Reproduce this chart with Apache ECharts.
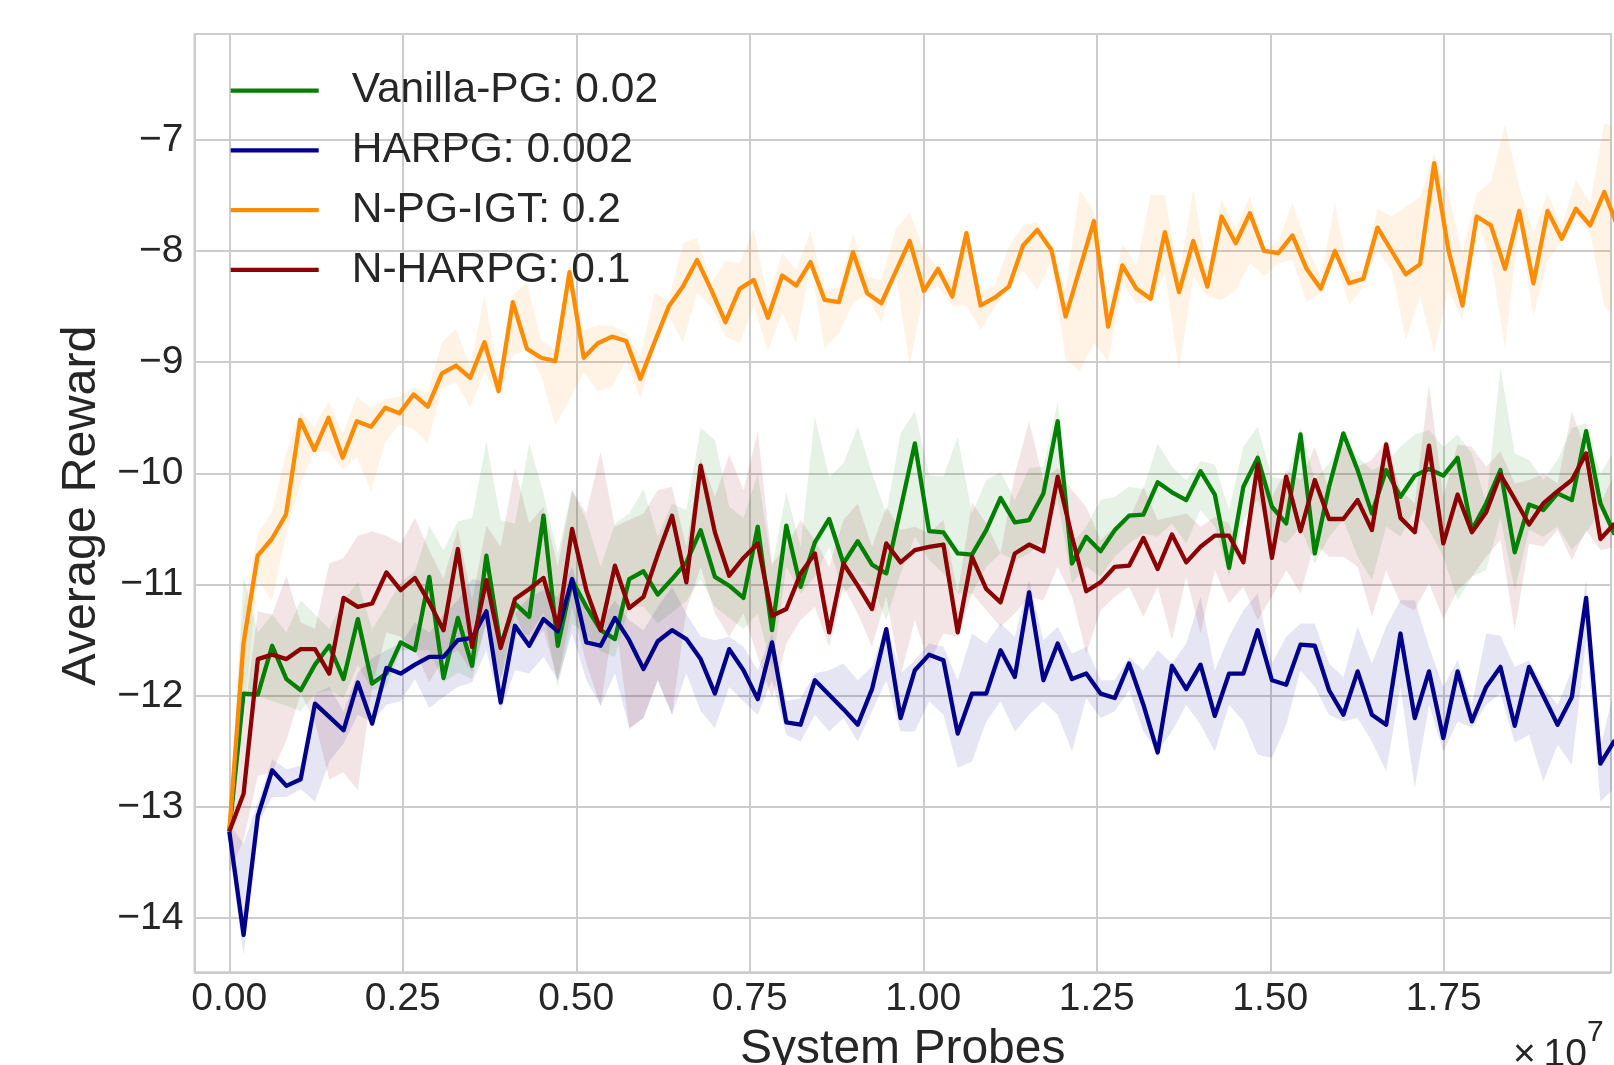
<!DOCTYPE html>
<html>
<head>
<meta charset="utf-8">
<script src="https://cdn.jsdelivr.net/npm/echarts@6/dist/echarts.min.js"></script>
<style>
html,body{margin:0;padding:0;background:#fff}
#chart{width:1614px;height:1065px}
</style>
</head>
<body>
<div id="chart"></div>
<script>
const FONT = '"Liberation Sans", Arial, sans-serif';
const TEXT = '#262626';
const GRID = '#cccccc';

const legendNames = ['Vanilla-PG: 0.02', 'HARPG: 0.002', 'N-PG-IGT: 0.2', 'N-HARPG: 0.1'];
const lineColors = ['#008000', '#00008b', '#ff8c00', '#8b0000'];

// probes per iteration (spacing of the points on the x axis)
const probeStep = 205800;     // Vanilla-PG, HARPG, N-HARPG
const probeStepIGT = 204250;  // N-PG-IGT

// Vanilla-PG
const vanillaMean = [-13.22,-11.98,-11.99,-11.55,-11.85,-11.95,-11.72,-11.55,-11.85,-11.31,
  -11.89,-11.80,-11.52,-11.59,-10.93,-11.84,-11.30,-11.73,-10.74,-11.55,
  -11.17,-11.29,-10.38,-11.55,-10.96,-11.20,-11.41,-11.49,-10.95,-10.88,
  -11.09,-10.95,-10.80,-10.51,-10.93,-11.01,-11.12,-10.48,-11.41,-10.47,
  -11.02,-10.62,-10.41,-10.81,-10.61,-10.82,-10.90,-10.32,-9.73,-10.52,
  -10.53,-10.72,-10.73,-10.51,-10.22,-10.44,-10.42,-10.18,-9.53,-10.81,
  -10.57,-10.70,-10.51,-10.38,-10.37,-10.08,-10.17,-10.24,-9.98,-10.19,
  -10.85,-10.12,-9.86,-10.30,-10.45,-9.65,-10.72,-10.12,-9.64,-9.97,
  -10.36,-9.97,-10.21,-10.02,-9.96,-10.02,-9.86,-10.51,-10.27,-9.97,
  -10.71,-10.28,-10.33,-10.18,-10.24,-9.62,-10.27,-10.55];
const vanillaUpper = [-13.15,-10.92,-11.43,-11.27,-11.43,-11.14,-11.27,-11.40,-11.14,-10.98,
  -11.40,-11.20,-10.98,-10.88,-10.47,-10.69,-10.43,-10.40,-9.71,-10.42,
  -10.45,-9.73,-10.18,-10.72,-10.15,-10.42,-10.84,-10.45,-10.36,-10.14,
  -10.57,-10.27,-10.33,-9.59,-9.70,-10.30,-10.40,-10.00,-10.84,-10.17,
  -10.66,-9.49,-10.03,-9.91,-9.58,-10.00,-10.36,-9.64,-9.44,-10.02,
  -10.03,-9.67,-10.36,-10.06,-9.99,-10.24,-9.95,-9.94,-9.36,-10.63,
  -10.48,-10.24,-10.21,-10.12,-10.14,-9.73,-9.94,-10.06,-9.89,-9.92,
  -10.33,-9.76,-9.58,-10.03,-10.06,-9.58,-10.06,-9.91,-9.67,-9.85,
  -9.97,-9.91,-9.76,-9.65,-9.61,-9.76,-9.65,-9.82,-10.27,-9.05,
  -9.82,-9.88,-10.06,-9.88,-9.59,-9.55,-10.00,-9.79];
const vanillaLower = [-13.30,-12.00,-12.00,-12.05,-12.09,-12.14,-11.98,-11.95,-12.02,-11.72,
  -11.95,-11.92,-11.59,-11.59,-11.59,-11.88,-11.79,-11.85,-11.34,-11.85,
  -11.45,-11.45,-11.25,-11.92,-11.35,-11.45,-11.60,-11.65,-11.20,-11.20,
  -11.35,-11.25,-11.15,-10.95,-11.20,-11.30,-11.40,-11.26,-11.77,-10.84,
  -11.08,-10.93,-10.66,-11.08,-10.96,-11.02,-11.32,-10.90,-10.57,-10.78,
  -10.90,-11.08,-11.08,-10.84,-10.72,-10.78,-10.72,-10.60,-10.24,-10.99,
  -10.84,-10.93,-10.75,-10.63,-10.54,-10.57,-10.45,-10.63,-10.33,-10.48,
  -10.93,-10.42,-10.24,-10.57,-10.63,-10.48,-10.81,-10.57,-10.42,-10.75,
  -10.96,-10.48,-10.57,-10.33,-10.51,-10.75,-11.14,-10.93,-10.87,-10.40,
  -11.05,-10.51,-10.57,-10.48,-10.69,-10.54,-10.33,-10.57];

// HARPG
const harpgMean = [-13.22,-14.15,-13.08,-12.67,-12.81,-12.75,-12.07,-12.19,-12.31,-11.88,
  -12.25,-11.75,-11.80,-11.72,-11.65,-11.65,-11.50,-11.48,-11.24,-12.06,
  -11.37,-11.55,-11.31,-11.42,-10.95,-11.52,-11.55,-11.30,-11.50,-11.76,
  -11.51,-11.41,-11.49,-11.67,-11.98,-11.58,-11.77,-12.03,-11.52,-12.24,
  -12.26,-11.86,-11.99,-12.12,-12.26,-11.94,-11.40,-12.20,-11.77,-11.63,
  -11.68,-12.34,-11.98,-11.98,-11.59,-11.83,-11.07,-11.86,-11.53,-11.85,
  -11.80,-11.98,-12.02,-11.71,-12.08,-12.51,-11.73,-11.94,-11.72,-12.18,
  -11.80,-11.80,-11.41,-11.86,-11.90,-11.54,-11.55,-11.95,-12.17,-11.78,
  -12.17,-12.26,-11.44,-12.20,-11.78,-12.38,-11.78,-12.23,-11.92,-11.74,
  -12.27,-11.74,-12.00,-12.26,-12.01,-11.12,-12.61,-12.40];
const harpgUpper = [-13.15,-13.33,-12.96,-12.57,-12.66,-12.63,-11.98,-11.92,-12.14,-11.79,
  -11.66,-11.59,-11.53,-11.34,-11.43,-11.27,-11.14,-10.95,-10.98,-11.56,
  -11.26,-11.11,-11.05,-11.11,-10.84,-11.26,-11.32,-11.14,-11.32,-11.41,
  -11.20,-11.02,-11.26,-11.47,-11.50,-11.47,-11.56,-11.77,-11.44,-12.05,
  -12.02,-11.80,-11.77,-11.71,-11.86,-11.74,-11.35,-11.80,-11.68,-11.53,
  -11.56,-11.86,-11.44,-11.53,-11.35,-11.47,-10.96,-11.50,-11.38,-11.62,
  -11.56,-11.86,-11.86,-11.65,-11.77,-11.59,-11.71,-11.53,-11.11,-11.77,
  -11.47,-11.23,-11.08,-11.71,-11.47,-11.35,-11.35,-11.71,-11.83,-11.38,
  -11.71,-11.38,-11.14,-11.14,-11.56,-11.92,-11.68,-12.08,-11.44,-11.46,
  -11.74,-11.68,-11.92,-12.08,-11.77,-10.96,-12.47,-11.92];
const harpgLower = [-13.40,-14.33,-13.15,-12.91,-12.91,-12.84,-12.95,-12.59,-12.43,-12.17,
  -12.24,-12.08,-12.05,-11.85,-12.11,-12.01,-11.92,-11.88,-11.59,-12.14,
  -11.77,-11.80,-11.65,-11.86,-11.44,-11.86,-12.09,-11.80,-12.29,-12.20,
  -11.86,-12.17,-11.80,-12.14,-12.29,-11.92,-12.05,-12.17,-11.86,-12.35,
  -12.41,-12.17,-12.32,-12.20,-12.41,-12.14,-11.86,-12.32,-12.32,-12.05,
  -12.17,-12.65,-12.59,-12.23,-12.05,-12.32,-12.17,-12.05,-12.17,-12.50,
  -12.02,-12.20,-12.14,-11.95,-12.32,-12.50,-12.32,-12.08,-12.26,-12.50,
  -12.08,-12.23,-12.53,-12.56,-12.26,-11.77,-11.92,-12.17,-12.23,-12.20,
  -12.41,-12.68,-11.92,-12.83,-12.08,-12.50,-12.23,-12.29,-12.08,-11.98,
  -12.42,-12.35,-12.77,-12.44,-12.62,-11.50,-12.95,-12.83];

// N-PG-IGT
const igtMean = [-13.22,-11.53,-10.74,-10.59,-10.37,-9.52,-9.79,-9.50,-9.86,-9.53,
  -9.58,-9.41,-9.46,-9.29,-9.40,-9.10,-9.03,-9.14,-8.82,-9.26,
  -8.46,-8.88,-8.96,-8.99,-8.19,-8.96,-8.83,-8.77,-8.81,-9.15,
  -8.82,-8.50,-8.32,-8.08,-8.35,-8.64,-8.34,-8.26,-8.60,-8.22,
  -8.31,-8.10,-8.44,-8.46,-8.01,-8.38,-8.47,-8.19,-7.91,-8.36,
  -8.16,-8.41,-7.84,-8.49,-8.42,-8.32,-7.95,-7.81,-7.99,-8.59,
  -8.16,-7.73,-8.68,-8.13,-8.34,-8.43,-7.83,-8.37,-7.91,-8.32,
  -7.69,-7.93,-7.66,-8.00,-8.02,-7.86,-8.16,-8.34,-8.00,-8.29,
  -8.25,-7.79,-8.00,-8.21,-8.12,-7.21,-7.99,-8.49,-7.69,-7.77,
  -8.16,-7.64,-8.29,-7.64,-7.89,-7.62,-7.77,-7.47,-7.80];
const igtUpper = [-13.10,-11.20,-10.55,-10.35,-9.82,-9.44,-9.58,-9.35,-9.64,-9.31,
  -9.41,-9.33,-9.31,-9.22,-9.28,-8.82,-8.70,-9.04,-8.40,-9.10,
  -8.40,-8.28,-8.80,-8.89,-8.08,-8.71,-8.67,-8.67,-8.74,-8.95,
  -8.38,-8.44,-7.93,-7.88,-8.29,-8.09,-8.11,-7.80,-8.44,-8.02,
  -8.17,-7.82,-8.34,-8.34,-7.84,-8.23,-8.26,-7.81,-7.65,-7.99,
  -8.16,-8.26,-7.80,-8.37,-8.31,-7.96,-7.77,-7.74,-7.99,-8.35,
  -7.45,-7.65,-8.53,-7.93,-8.13,-7.49,-7.50,-8.23,-7.45,-8.17,
  -7.54,-7.81,-7.50,-7.99,-7.92,-7.57,-7.93,-8.25,-7.57,-8.20,
  -8.17,-7.62,-7.69,-7.60,-7.52,-7.12,-7.48,-8.02,-7.48,-7.38,
  -6.86,-7.42,-7.84,-7.48,-7.78,-7.36,-7.57,-6.85,-6.90];
const igtLower = [-13.35,-12.20,-10.95,-11.15,-10.56,-10.09,-9.81,-9.80,-9.96,-9.85,
  -10.16,-9.72,-9.56,-9.60,-9.73,-9.23,-9.18,-9.41,-9.09,-9.31,
  -8.94,-8.89,-9.12,-9.57,-9.34,-9.09,-9.26,-9.22,-8.98,-9.33,
  -8.86,-8.59,-8.82,-8.38,-8.50,-8.77,-8.83,-8.50,-8.90,-8.55,
  -8.83,-8.11,-8.88,-8.74,-8.46,-8.40,-8.64,-8.20,-9.03,-8.38,
  -8.32,-8.49,-8.49,-8.71,-8.50,-8.35,-8.17,-8.35,-8.08,-8.98,
  -9.08,-8.83,-9.00,-8.29,-8.47,-8.46,-8.20,-9.08,-8.23,-8.41,
  -8.44,-8.35,-8.11,-8.23,-8.11,-8.08,-8.46,-8.37,-8.05,-8.49,
  -8.32,-7.99,-8.17,-8.80,-8.41,-8.91,-8.35,-8.62,-7.72,-8.08,
  -8.88,-7.75,-8.59,-8.08,-7.92,-7.69,-7.84,-8.50,-8.60];

// N-HARPG
const nharpgMean = [-13.22,-12.88,-11.67,-11.63,-11.67,-11.58,-11.58,-11.80,-11.12,-11.20,
  -11.17,-10.89,-11.05,-10.94,-11.16,-11.41,-10.68,-11.56,-10.96,-11.57,
  -11.13,-11.04,-10.94,-11.38,-10.50,-11.05,-11.41,-10.83,-11.21,-11.11,
  -10.73,-10.38,-10.98,-9.93,-10.53,-10.92,-10.76,-10.63,-11.28,-11.22,
  -10.90,-10.72,-11.43,-10.81,-11.01,-11.22,-10.63,-10.80,-10.69,-10.66,
  -10.64,-11.43,-10.75,-11.04,-11.16,-10.72,-10.64,-10.70,-10.03,-10.57,
  -11.06,-10.98,-10.84,-10.83,-10.58,-10.86,-10.55,-10.80,-10.66,-10.56,
  -10.56,-10.80,-9.92,-10.76,-10.03,-10.52,-10.06,-10.41,-10.41,-10.24,
  -10.51,-9.74,-10.40,-10.53,-9.75,-10.63,-10.19,-10.53,-10.35,-10.01,
  -10.23,-10.46,-10.27,-10.16,-10.06,-9.82,-10.59,-10.45];
const nharpgUpper = [-13.00,-12.24,-11.24,-11.27,-10.92,-11.34,-11.40,-10.81,-10.76,-10.56,
  -10.52,-10.56,-10.63,-10.40,-10.69,-10.95,-10.50,-11.14,-10.47,-10.66,
  -9.95,-10.45,-10.30,-10.84,-10.15,-10.36,-9.80,-10.48,-10.42,-10.36,
  -10.15,-10.12,-10.66,-9.86,-10.21,-9.83,-10.15,-9.62,-10.81,-10.66,
  -10.42,-10.60,-10.84,-10.42,-10.27,-10.66,-10.30,-10.51,-10.48,-10.54,
  -10.42,-11.08,-10.26,-10.45,-10.72,-10.00,-9.53,-10.06,-9.95,-10.15,
  -10.30,-10.60,-10.48,-10.42,-10.12,-10.42,-10.39,-10.36,-10.48,-10.39,
  -10.45,-10.75,-9.79,-10.21,-9.97,-10.06,-9.76,-10.15,-9.73,-9.94,
  -9.88,-9.70,-10.15,-10.27,-9.20,-10.21,-9.74,-9.76,-9.94,-9.80,
  -10.09,-10.06,-10.00,-10.09,-9.44,-9.80,-10.27,-10.00];
const nharpgLower = [-13.59,-13.30,-12.72,-12.69,-12.40,-11.98,-12.24,-12.75,-12.69,-12.85,
  -11.92,-11.43,-11.47,-11.59,-11.88,-11.66,-11.59,-11.79,-11.34,-11.86,
  -11.26,-11.56,-11.41,-11.86,-11.20,-11.71,-12.09,-11.26,-12.30,-12.20,
  -11.86,-12.17,-11.23,-10.84,-11.26,-11.47,-11.26,-11.65,-12.02,-11.53,
  -11.32,-11.20,-11.56,-11.02,-11.26,-11.56,-11.11,-11.82,-11.32,-11.71,
  -11.44,-11.47,-11.08,-11.23,-11.38,-11.26,-11.11,-11.14,-10.84,-11.11,
  -11.62,-11.23,-11.11,-11.02,-11.29,-11.02,-11.50,-10.93,-11.44,-10.87,
  -11.17,-11.02,-11.32,-11.11,-10.87,-11.08,-10.63,-10.75,-10.75,-10.84,
  -11.29,-10.87,-11.17,-11.23,-10.99,-11.31,-11.05,-10.93,-10.75,-10.60,
  -11.41,-10.63,-10.66,-10.51,-10.78,-10.51,-10.69,-10.66];

const xTickStep = 2500000;

const chart = echarts.init(document.getElementById('chart'), null, {renderer: 'canvas'});

function band(step, upper, lower, color) {
  return {
    type: 'custom', silent: true, clip: true, z: 1, animation: false,
    data: [[0, upper[0]]],
    renderItem(params, api) {
      const pts = upper.map((v, i) => api.coord([i * step, v]));
      for (let i = lower.length - 1; i >= 0; i--) pts.push(api.coord([i * step, lower[i]]));
      return {type: 'polygon', shape: {points: pts}, style: {fill: color, opacity: 0.1}};
    }
  };
}

function line(name, step, mean, color) {
  return {
    type: 'line', name, z: 3, silent: true, animation: false,
    symbol: 'none', showSymbol: false,
    data: mean.map((v, i) => [i * step, v]),
    lineStyle: {width: 4.3, color, join: 'round'},
    itemStyle: {color}
  };
}

const isTick = (v, s) => Math.abs(v / s - Math.round(v / s)) < 1e-6;

chart.setOption({
  animation: false,
  backgroundColor: '#fff',
  textStyle: {fontFamily: FONT},
  grid: {left: 194.5, right: 3, top: 34, bottom: 92.7, show: true, borderColor: GRID, borderWidth: 2,
    containLabel: false, outerBoundsMode: 'none'},
  legend: {
    data: legendNames, orient: 'vertical', left: 230.7, top: 69.2, padding: 0,
    icon: 'rect', itemWidth: 88, itemHeight: 4.2, itemGap: 16.7,
    textStyle: {fontSize: 42.5, color: TEXT, fontFamily: FONT, padding: [0, 0, 0, 28]}
  },
  xAxis: {
    type: 'value', min: -501400, max: 19909200,
    minInterval: xTickStep, maxInterval: xTickStep, splitNumber: 8,
    axisLine: {show: false}, axisTick: {show: false},
    axisLabel: {fontSize: 39, color: TEXT, fontFamily: FONT, margin: 7, showMinLabel: false, showMaxLabel: false,
      formatter: v => (v >= 0 && isTick(v, xTickStep)) ? (v / 1e7).toFixed(2) : ''},
    splitLine: {show: true, lineStyle: {color: GRID, width: 2}},
    name: 'System Probes', nameLocation: 'middle', nameGap: 53,
    nameTextStyle: {fontSize: 48, color: TEXT, fontFamily: FONT}
  },
  yAxis: {
    type: 'value', min: -14.4865, max: -6.0486,
    minInterval: 1, maxInterval: 1, splitNumber: 8,
    axisLine: {show: false}, axisTick: {show: false},
    axisLabel: {fontSize: 39, color: TEXT, fontFamily: FONT, margin: 11, showMinLabel: false, showMaxLabel: false,
      formatter: v => isTick(v, 1) ? '\u2212' + Math.abs(Math.round(v)) : ''},
    splitLine: {show: true, lineStyle: {color: GRID, width: 2}},
    name: 'Average Reward', nameLocation: 'middle', nameGap: 85,
    nameTextStyle: {fontSize: 48.5, color: TEXT, fontFamily: FONT, padding: [0, 5, 0, 0]}
  },
  graphic: [
    {type: 'text', left: 1513, top: 1036, silent: true,
      style: {text: '\u00d7\u200910', fontSize: 39, fontFamily: FONT, fill: TEXT}},
    {type: 'text', left: 1587, top: 1018, silent: true,
      style: {text: '7', fontSize: 30, fontFamily: FONT, fill: TEXT}}
  ],
  series: [
    band(probeStep, vanillaUpper, vanillaLower, lineColors[0]),
    band(probeStep, harpgUpper, harpgLower, lineColors[1]),
    band(probeStepIGT, igtUpper, igtLower, lineColors[2]),
    band(probeStep, nharpgUpper, nharpgLower, lineColors[3]),
    line(legendNames[0], probeStep, vanillaMean, lineColors[0]),
    line(legendNames[1], probeStep, harpgMean, lineColors[1]),
    line(legendNames[2], probeStepIGT, igtMean, lineColors[2]),
    line(legendNames[3], probeStep, nharpgMean, lineColors[3])
  ]
});
</script>
</body>
</html>
